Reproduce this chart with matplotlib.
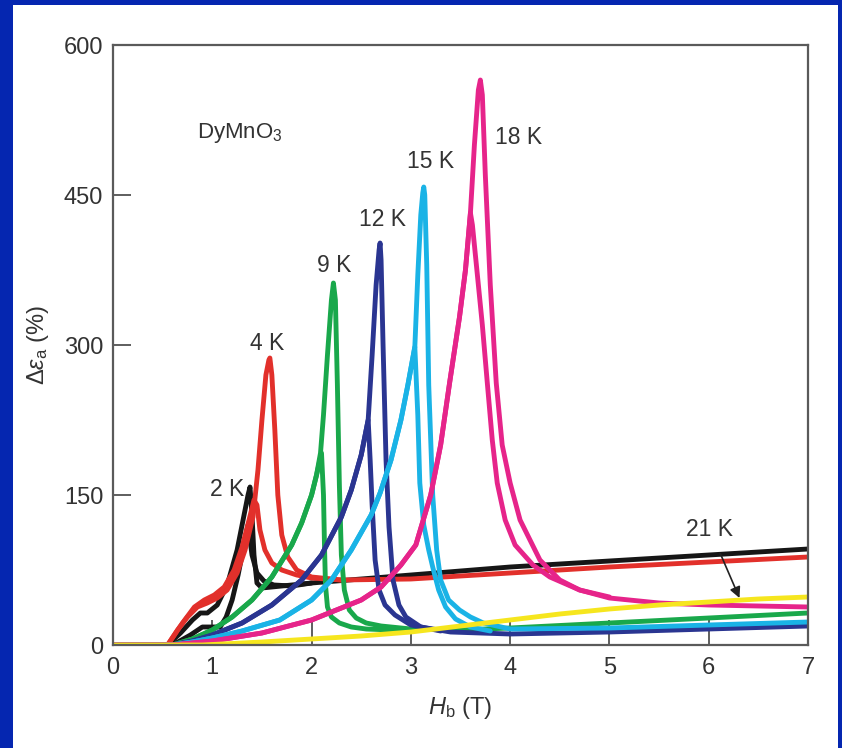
import matplotlib
matplotlib.use("Agg")
import matplotlib.pyplot as plt
from matplotlib.patches import Rectangle

plt.rcParams['font.family'] = ['Liberation Sans Narrow', 'Liberation Sans', 'DejaVu Sans']
plt.rcParams['mathtext.fontset'] = 'custom'
plt.rcParams['mathtext.rm'] = 'Liberation Sans'
plt.rcParams['mathtext.it'] = 'Liberation Sans:italic'

# ---- data: field H_b (T) vs Delta eps_a (%) ----
# each temperature has two sweep branches
k2_a_x = [0, 0.55, 0.68, 0.80, 0.88, 0.95, 1.05, 1.15, 1.25, 1.32, 1.36, 1.38, 1.40, 1.42, 1.45, 1.50, 1.60, 2.0, 3.0, 4.0, 5.0, 6.0, 7.0]
k2_a_y = [0, 0, 12, 25, 32, 32, 40, 60, 95, 130, 150, 158, 130, 90, 62, 57, 58, 62, 70, 78, 84, 90, 96]
k2_b_x = [0, 0.6, 0.78, 0.9, 1.0, 1.08, 1.14, 1.2, 1.26, 1.32, 1.36, 1.40, 1.45, 1.52, 1.62, 1.8, 2.0]
k2_b_y = [0, 0, 10, 18, 18, 18, 28, 45, 70, 100, 120, 90, 72, 64, 60, 59, 62]

k4_a_x = [0, 0.55, 0.65, 0.75, 0.85, 0.95, 1.05, 1.15, 1.25, 1.33, 1.41, 1.46, 1.50, 1.54, 1.57, 1.58, 1.60,
          1.63, 1.66, 1.70, 1.76, 1.85, 2.0, 2.3, 3, 4, 5, 6, 7]
k4_a_y = [0, 0, 15, 28, 38, 42, 47, 55, 72, 95, 128, 175, 225, 270, 285, 287, 270,
          215, 150, 110, 88, 75, 68, 65, 66, 72, 78, 83, 88]
k4_b_x = [0, 0.55, 0.7, 0.82, 0.92, 1.02, 1.12, 1.22, 1.30, 1.37, 1.42, 1.45, 1.48, 1.53, 1.60, 1.70, 1.85, 2.0, 2.3]
k4_b_y = [0, 0, 22, 38, 45, 50, 58, 75, 98, 125, 145, 140, 115, 95, 82, 75, 70, 67, 65]

k9_a_x = [0, 0.6, 0.8, 1.0, 1.2, 1.4, 1.6, 1.8, 1.9, 2.0, 2.05, 2.09, 2.12, 2.16, 2.20, 2.22, 2.24, 2.26,
          2.28, 2.30, 2.33, 2.38, 2.45, 2.55, 2.7, 3.0, 3.5, 4, 5, 6, 7]
k9_a_y = [0, 0, 6, 15, 28, 45, 68, 100, 122, 150, 170, 192, 230, 290, 345, 362, 345, 260,
          160, 90, 55, 35, 27, 22, 19, 16, 15, 17, 22, 27, 32]
k9_b_x = [0, 0.6, 0.8, 1.0, 1.2, 1.4, 1.6, 1.8, 1.9, 2.0, 2.05, 2.10, 2.12, 2.13, 2.14, 2.16, 2.20, 2.28, 2.40, 2.55, 2.8, 3.0]
k9_b_y = [0, 0, 6, 15, 28, 45, 68, 100, 122, 150, 170, 192, 150, 100, 60, 38, 28, 22, 18, 16, 15, 15]

k12_a_x = [0, 0.6, 0.8, 1.0, 1.3, 1.6, 1.9, 2.1, 2.3, 2.4, 2.5, 2.57, 2.61, 2.65, 2.68, 2.69, 2.70, 2.72,
           2.75, 2.78, 2.82, 2.88, 2.95, 3.1, 3.4, 4, 5, 6, 7]
k12_a_y = [0, 0, 4, 10, 22, 40, 65, 90, 128, 155, 190, 225, 290, 360, 395, 402, 385, 300,
           185, 118, 65, 40, 28, 18, 13, 11, 13, 16, 19]
k12_b_x = [0, 0.6, 0.8, 1.0, 1.3, 1.6, 1.9, 2.1, 2.3, 2.4, 2.5, 2.57, 2.59, 2.61, 2.64, 2.68, 2.74, 2.84, 3.0, 3.3]
k12_b_y = [0, 0, 4, 10, 22, 40, 65, 90, 128, 155, 190, 225, 185, 140, 85, 55, 40, 30, 20, 14]

k15_a_x = [0, 0.6, 0.8, 1.0, 1.3, 1.68, 2.0, 2.2, 2.4, 2.6, 2.69, 2.8, 2.9, 2.97, 3.04, 3.07, 3.10, 3.12, 3.13,
           3.14, 3.16, 3.18, 3.22, 3.26, 3.30, 3.38, 3.49, 3.6, 3.73, 4, 5, 6, 7]
k15_a_y = [0, 0, 3, 7, 14, 25, 45, 65, 95, 130, 152, 185, 225, 260, 298, 370, 430, 452, 458,
           450, 380, 260, 150, 95, 65, 45, 35, 28, 22, 16, 17, 20, 23]
k15_b_x = [0, 0.6, 0.8, 1.0, 1.3, 1.68, 2.0, 2.2, 2.4, 2.6, 2.69, 2.8, 2.9, 2.97, 3.04, 3.07, 3.09, 3.13,
           3.18, 3.22, 3.28, 3.35, 3.45, 3.6, 3.8]
k15_b_y = [0, 0, 3, 7, 14, 25, 45, 65, 95, 130, 152, 185, 225, 260, 298, 230, 162, 120,
           95, 78, 55, 38, 26, 18, 14]

k18_a_x = [0, 0.6, 1.0, 1.5, 2.0, 2.5, 2.7, 2.9, 3.05, 3.2, 3.3, 3.39, 3.49, 3.55, 3.6, 3.64, 3.68, 3.70, 3.72,
           3.75, 3.80, 3.86, 3.92, 4.0, 4.1, 4.3, 4.5, 4.7, 5.0, 5.5, 6, 6.5, 7]
k18_a_y = [0, 0, 4, 12, 25, 45, 58, 80, 100, 150, 200, 262, 328, 375, 432, 500, 555, 565, 550,
           470, 360, 262, 200, 162, 125, 85, 65, 55, 47, 42, 40, 39, 38]
k18_b_x = [0, 0.6, 1.0, 1.5, 2.0, 2.5, 2.7, 2.9, 3.05, 3.2, 3.3, 3.39, 3.49, 3.55, 3.6, 3.62, 3.66, 3.72,
           3.77, 3.82, 3.87, 3.95, 4.05, 4.23, 4.4, 4.7, 5.0]
k18_b_y = [0, 0, 4, 12, 25, 45, 58, 80, 100, 150, 200, 262, 328, 375, 432, 420, 380, 320,
           262, 205, 162, 125, 100, 80, 68, 55, 48]

k21_x = [0, 0.9, 1.5, 2.0, 2.5, 3.0, 3.5, 4.0, 4.5, 5.0, 5.5, 6.0, 6.5, 7.0]
k21_y = [0, 0, 3, 6, 9, 13, 19, 25, 31, 36, 40, 43, 46, 48]

x_ticks = [0, 1, 2, 3, 4, 5, 6, 7]
y_ticks = [0, 150, 300, 450, 600]

# label text, position (data coords)
curve_labels = ['2 K', '4 K', '9 K', '12 K', '15 K', '18 K']
label_x = [1.15, 1.55, 2.23, 2.71, 3.20, 4.08]
label_y = [155, 302, 379, 426, 483, 508]

c_black = '#161616'
c_red = '#e2302b'
c_green = '#19a84b'
c_navy = '#2a3591'
c_cyan = '#1ab3e6'
c_mag = '#e6248a'
c_yel = '#f6e61e'

fig = plt.figure(figsize=(8.42, 7.48), dpi=100, facecolor='#0526b0')
panel = Rectangle((13 / 842, 0), 825 / 842, 743 / 748, transform=fig.transFigure,
                  facecolor='white', edgecolor='none', zorder=-10)
fig.add_artist(panel)
ax = fig.add_axes([113 / 842, 103 / 748, 695 / 842, 600 / 748])
ax.set_zorder(5)

lw = 3.5
for xs, ys, c in [(k2_a_x, k2_a_y, c_black), (k2_b_x, k2_b_y, c_black),
                  (k4_a_x, k4_a_y, c_red), (k4_b_x, k4_b_y, c_red),
                  (k9_a_x, k9_a_y, c_green), (k9_b_x, k9_b_y, c_green),
                  (k12_a_x, k12_a_y, c_navy), (k12_b_x, k12_b_y, c_navy),
                  (k15_a_x, k15_a_y, c_cyan), (k15_b_x, k15_b_y, c_cyan),
                  (k18_a_x, k18_a_y, c_mag), (k18_b_x, k18_b_y, c_mag),
                  (k21_x, k21_y, c_yel)]:
    ax.plot(xs, ys, color=c, lw=lw, solid_joinstyle='round', solid_capstyle='round')

ax.set_xlim(0, 7)
ax.set_ylim(0, 600)
ax.set_xticks(x_ticks)
ax.set_yticks(y_ticks)
ax.tick_params(axis='x', direction='in', length=18, width=1.1, color='#333333',
               labelsize=17, pad=9, labelcolor='#333333')
ax.tick_params(axis='y', direction='in', length=13, width=1.1, color='#333333',
               labelsize=17, pad=7, labelcolor='#333333')
for s in ax.spines.values():
    s.set_color('#5a5a5a')
    s.set_linewidth(1.6)

ax.set_xlabel(r'$H_{\rm b}$ (T)', fontsize=17, color='#333333', labelpad=11)
ax.set_ylabel(r'$\Delta\varepsilon_{\rm a}$ (%)', fontsize=17, color='#333333', labelpad=9)

ax.text(0.85, 507, r'DyMnO$_3$', fontsize=16, color='#333333', va='baseline', ha='left')
for t, lx, ly in zip(curve_labels, label_x, label_y):
    ax.text(lx, ly, t, fontsize=16.5, color='#333333', ha='center', va='center')

ax.annotate('21 K', xy=(6.31, 47), xytext=(6.01, 116), fontsize=16.5, color='#333333',
            ha='center', va='center',
            arrowprops=dict(arrowstyle='-|>', color='#222222', lw=1.2, mutation_scale=16,
                            shrinkA=8, shrinkB=0))

fig.savefig('out.png', dpi=100, facecolor=fig.get_facecolor())
